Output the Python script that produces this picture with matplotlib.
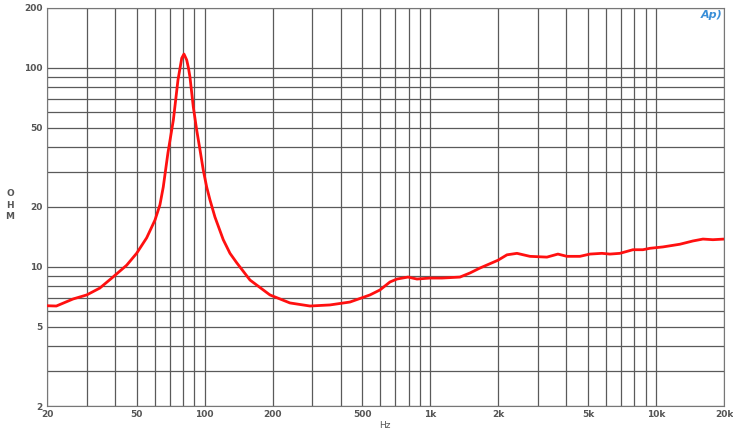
import matplotlib
matplotlib.use("Agg")
import matplotlib.pyplot as plt
from matplotlib.ticker import FixedLocator, NullFormatter, FixedFormatter

# impedancia (Hz, ohm)
freq = [20, 22.0, 26.1, 30.0, 34.3, 39.2, 45.1, 49.9, 55.3, 60.2, 63.3, 65.5, 68.7,
        72.6, 74.6, 76.1, 79.1, 80.9, 83.2, 84.7, 86.0, 89.0, 92.1, 95.3, 98.5, 102,
        105.5, 111, 120.8, 129.4, 138.5, 158.7, 194.5,
        238.6, 292.6, 358.9, 440.1, 539.8, 597.8, 662, 710.9, 795.6, 872, 995,
        1125, 1352, 1497, 1658, 1992, 2184, 2419, 2761, 3284, 3673, 4027, 4597,
        5091, 5755, 6245, 6916, 7896, 8742, 9389, 10723, 12751, 14563, 16129,
        17860, 20000]
ohm = [6.38, 6.36, 6.90, 7.23, 7.83, 8.89, 10.2, 11.7, 14.0, 17.2, 20.5, 25.2, 37.4,
       54.7, 71.4, 86.9, 112, 117.4, 109.6, 99.9, 90.0, 63.6, 48.8, 38.7, 30.7, 25.2,
       21.7, 17.8, 13.7, 11.7, 10.5, 8.59, 7.23,
       6.59, 6.36, 6.44, 6.66, 7.23, 7.66, 8.40, 8.69, 8.89, 8.69, 8.79,
       8.79, 8.89, 9.32, 9.87, 10.8, 11.5, 11.7, 11.3, 11.2, 11.6, 11.3, 11.3,
       11.6, 11.7, 11.6, 11.7, 12.2, 12.2, 12.4, 12.6, 13.0, 13.5, 13.8,
       13.7, 13.8]

xticks = [20, 50, 100, 200, 500, 1000, 2000, 5000, 10000, 20000]
xlabels = ["20", "50", "100", "200", "500", "1k", "2k", "5k", "10k", "20k"]
yticks = [2, 5, 10, 20, 50, 100, 200]
ylabels = ["2", "5", "10", "20", "50", "100", "200"]

fig = plt.figure(figsize=(7.33, 4.33), dpi=100)
ax = fig.add_axes([47 / 733, 27 / 433, 677 / 733, 398 / 433])
ax.set_xscale("log")
ax.set_yscale("log")
ax.set_xlim(20, 20000)
ax.set_ylim(2, 200)

ax.xaxis.set_major_locator(FixedLocator(xticks))
ax.xaxis.set_major_formatter(FixedFormatter(xlabels))
ax.yaxis.set_major_locator(FixedLocator(yticks))
ax.yaxis.set_major_formatter(FixedFormatter(ylabels))
ax.xaxis.set_minor_formatter(NullFormatter())
ax.yaxis.set_minor_formatter(NullFormatter())

ax.grid(True, which="both", color="#5a5a5a", lw=0.9)
ax.tick_params(which="both", length=0, labelsize=6.5, labelcolor="#555555", pad=3)
for lab in ax.get_xticklabels() + ax.get_yticklabels():
    lab.set_fontweight("bold")
for s in ax.spines.values():
    s.set_color("#777777")

ax.plot(freq, ohm, color="#ff1010", lw=2, zorder=3)

fig.text(385 / 733, 1 - 425 / 433, "Hz", fontsize=6.5, color="#555555", ha="center", va="center")
fig.text(10 / 733, 1 - 205 / 433, "O\nH\nM", fontsize=6.5, color="#555555", ha="center",
         va="center", linespacing=1.3, fontweight="bold")
fig.text(712 / 733, 1 - 15 / 433, "Ap)", fontsize=8, color="#3a8fd8", ha="center",
         va="center", style="italic", fontweight="bold")

fig.savefig("out.png", dpi=100)
